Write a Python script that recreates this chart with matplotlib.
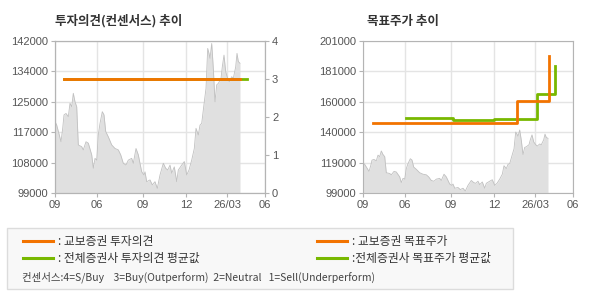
import numpy as np
import matplotlib.pyplot as plt
from matplotlib.patches import Rectangle
from matplotlib.lines import Line2D

plt.rcParams['font.family'] = ['Noto Sans CJK KR', 'DejaVu Sans']

# price history (time index 0..210 across the axis)
t = [0, 1.7, 4.3, 6, 7.7, 9, 11, 13.3, 15, 16.7, 18.3, 20, 21.7, 23.3, 26.7, 28.3,
     31, 33.3, 36.7, 38.3, 40, 41.7, 43.3, 45, 47.3, 49, 50.7, 53.3, 56.7, 60, 63.3,
     65.7, 68.3, 71, 73.3, 76.7, 78.3, 81, 83.3, 85, 86.7, 89,
     90, 91.7, 95, 97.3, 100, 102.3, 105, 108.3, 110.7, 112.7, 115, 116.7, 119.3,
     121.7, 123.3, 126.7, 129.3, 131.7, 134, 136.7, 139.3, 141, 143.3, 145, 146.7,
     149.3, 151, 152.7, 154, 155, 156.7, 158.3, 160, 161.7, 163.3, 166, 167.3, 169,
     170.7, 172.7, 174.3, 176.7, 178.3, 180.7, 182, 183.3, 185]
price = [119200, 118200, 115400, 113500, 117300, 121100, 121500, 120600, 124400,
         123400, 127200, 124800, 123400, 112600, 112100, 111200, 113500, 113100,
         109800, 106000, 108800, 108300, 115400, 118700, 122000, 121100, 116400,
         114900, 112600, 111600, 111200, 109800, 107400, 106900, 108300, 108800,
         107400, 111600, 109800, 107400, 105000, 104100,
         105000, 102200, 102700, 101300, 102200, 100300, 104100, 107400, 106000,
         105500, 106900, 104600, 106400, 102200, 105500, 106900, 107900, 104100,
         105500, 108300, 111600, 117300, 115400, 118200, 118700, 124800, 128600,
         139900, 138500, 137100, 141300, 134300, 124800, 129600, 130000, 131400,
         134700, 138000, 133300, 131400, 130500, 131900, 131400, 134700, 138500,
         136200, 135700]

# investment opinion (right axis 0-4)
op_kb_t = [9, 185]
op_kb = [3, 3]
op_avg_t = [9, 192]
op_avg = [3, 3]

# target price
tp_kb_t = [10, 154, 186, 186]
tp_kb = [146000, 161000, 161000, 191000]
tp_avg_t = [43, 90, 131, 174, 192]
tp_avg = [149500, 148000, 148800, 165300, 184000]

xtick_pos = [0, 42, 88, 131, 172, 210]
xtick_lab = ['09', '06', '09', '12', '26/03', '06']
y1_lab = ['99000', '108000', '117000', '125000', '134000', '142000']
y2_lab = ['99000', '119000', '140000', '160000', '181000', '201000']
op_lab = ['0', '1', '2', '3', '4']

ORANGE = '#f27300'
GREEN = '#78b800'
GRID = '#e4e4e4'
SPINE = '#b4b4b4'
TXT = '#555555'

fig = plt.figure(figsize=(5.9, 3.0), dpi=100)


def style(ax, ylo, yhi, labels):
    ax.set_xlim(0, 210)
    ax.set_ylim(ylo, yhi)
    ax.set_xticks(xtick_pos)
    ax.set_xticklabels(xtick_lab)
    ax.set_yticks(np.linspace(ylo, yhi, len(labels)))
    ax.set_yticklabels(labels)
    ax.grid(True, color=GRID, lw=1)
    ax.set_axisbelow(True)
    for s in ax.spines.values():
        s.set_color(SPINE)
    ax.tick_params(colors=SPINE, labelcolor=TXT, length=3, labelsize=8, pad=2)
    for lab in ax.get_xticklabels() + ax.get_yticklabels():
        lab.set_family('Liberation Sans')
    ax.fill_between(t, price, ylo, color='#e0e0e0', lw=0)
    ax.plot(t, price, color='#c0c0c0', lw=0.6)


ax1 = fig.add_axes([55 / 590, 107 / 300, 210 / 590, 152 / 300])
style(ax1, 99000, 142000, y1_lab)
ax1r = ax1.twinx()
ax1r.set_ylim(0, 4)
ax1r.set_yticks(range(5))
ax1r.set_yticklabels(op_lab)
ax1r.tick_params(colors=SPINE, labelcolor=TXT, length=3, labelsize=8, pad=2)
for lab in ax1r.get_yticklabels():
    lab.set_family('Liberation Sans')
for s in ax1r.spines.values():
    s.set_color(SPINE)
ax1r.plot(op_avg_t, op_avg, color=GREEN, lw=2)
ax1r.plot(op_kb_t, op_kb, color=ORANGE, lw=2)
fig.text(55 / 590, 1 - 21 / 300, '투자의견(컨센서스) 추이', fontsize=9,
         fontweight='bold', color='#333333', va='center')

ax2 = fig.add_axes([363 / 590, 107 / 300, 210 / 590, 152 / 300])
style(ax2, 99000, 201000, y2_lab)
ax2.plot(tp_avg_t, tp_avg, color=GREEN, lw=2, drawstyle='steps-post')
ax2.plot(tp_kb_t, tp_kb, color=ORANGE, lw=2, drawstyle='steps-post')
fig.text(367 / 590, 1 - 21 / 300, '목표주가 추이', fontsize=9,
         fontweight='bold', color='#333333', va='center')

# legend box
fig.add_artist(Rectangle((7 / 590, 1 - 289 / 300), 506 / 590, 61 / 300,
                         transform=fig.transFigure, facecolor='#f8f8f8',
                         edgecolor='#dcdcdc', lw=1))
legend_rows = [
    (23, 241, ORANGE, ': 교보증권 투자의견'),
    (23, 258, GREEN, ': 전체증권사 투자의견 평균값'),
    (317, 241, ORANGE, ': 교보증권 목표주가'),
    (317, 258, GREEN, ':전체증권사 목표주가 평균값'),
]
for x0, y0, c, txt in legend_rows:
    yy = 1 - y0 / 300
    fig.add_artist(Line2D([x0 / 590, (x0 + 30) / 590], [yy, yy], color=c, lw=2.2,
                          transform=fig.transFigure))
    fig.text((x0 + 35) / 590, yy, txt, fontsize=8.5, color='#333333', va='center')
fig.text(22 / 590, 1 - 277 / 300,
         '컨센서스:4=S/Buy    3=Buy(Outperform)  2=Neutral   1=Sell(Underperform)',
         fontsize=7.5, color='#444444', va='center')

fig.savefig('out.png', dpi=100, facecolor='white')
